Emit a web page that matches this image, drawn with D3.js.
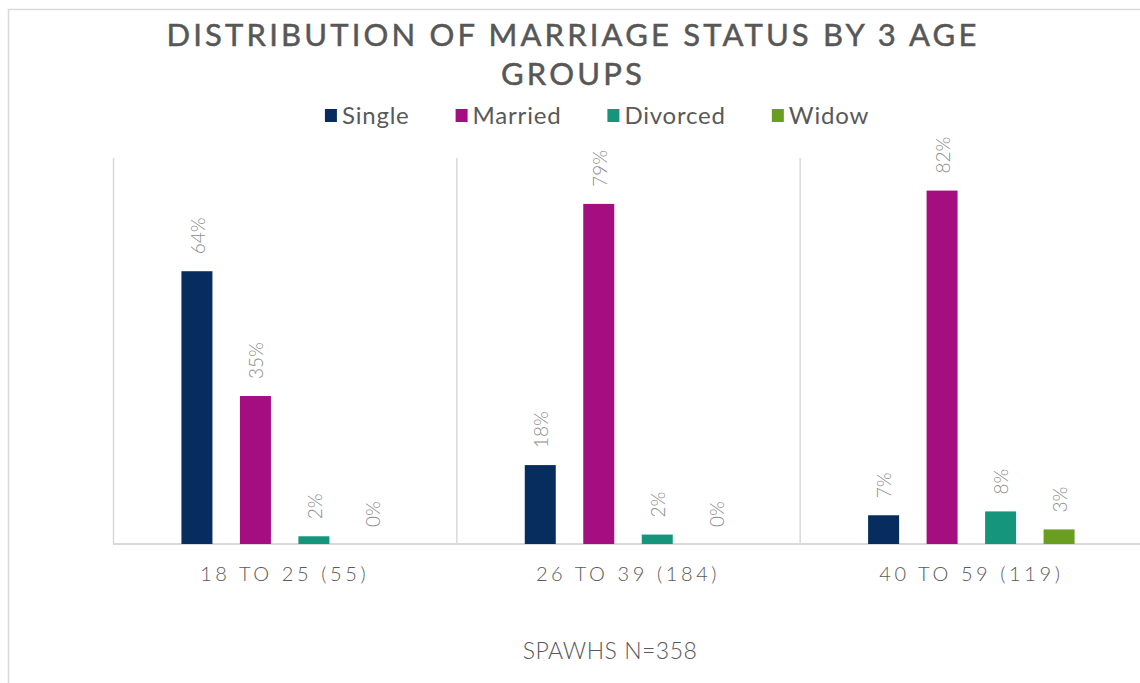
<!DOCTYPE html>
<html>
<head>
<meta charset="utf-8">
<script src="https://cdn.jsdelivr.net/npm/d3@7"></script>
<style>
  html, body { margin: 0; padding: 0; background: #fff; }
  svg { display: block; font-family: Lato, "Open Sans", sans-serif; }
</style>
</head>
<body>
<svg id="chart" width="1140" height="683"></svg>
<script>
// age groups on the x axis
const groups = ["18 TO 25 (55)", "26 TO 39 (184)", "40 TO 59 (119)"];
const statuses = ["Single", "Married", "Divorced", "Widow"];
const colors = ["#072d5e", "#a40e80", "#16957d", "#6a9e20"];

// percentage per status, one array per age group
const age18to25 = [63.6, 34.5, 1.8, 0];
const age26to39 = [18.4, 79.3, 2.2, 0];
const age40to59 = [6.7, 82.4, 7.6, 3.4];

const titleLines = ["DISTRIBUTION OF MARRIAGE STATUS BY 3 AGE", "GROUPS"];
const footer = "SPAWHS N=358";

const table = groups.map((g, i) => ({
    group: g,
    values: [age18to25, age26to39, age40to59][i].map((v, j) => ({ status: statuses[j], value: v }))
}));

const svg = d3.select("#chart");
const W = 1140, H = 683;
const plot = { left: 113, right: 1143, top: 158, bottom: 544 };
const grey = "#d9d9d9";

// outer chart frame (only the top and left edges are visible)
svg.append("path")
    .attr("d", `M8.5,${H} V9.5 H${W}`)
    .attr("fill", "none")
    .attr("stroke", grey)
    .attr("stroke-width", 1.5);

const x0 = d3.scaleBand().domain(groups).range([plot.left, plot.right]).padding(0);
const x1 = d3.scaleBand().domain(statuses).range([0, x0.bandwidth()])
    .paddingInner(0.47).paddingOuter(1.17);
const y = d3.scaleLinear().domain([0, 90]).range([plot.bottom, plot.top]);
const color = d3.scaleOrdinal().domain(statuses).range(colors);

// title, tracked out so the first line spans the same width as the original
const title = svg.append("text")
    .attr("text-anchor", "middle")
    .attr("fill", "#575757")
    .attr("stroke", "#575757")
    .attr("stroke-width", 0.5)
    .style("font-size", "31px");
title.selectAll("tspan")
    .data(titleLines)
    .join("tspan")
    .attr("x", 573)
    .attr("y", (d, i) => 46 + i * 39)
    .text(d => d);
const firstLine = title.select("tspan").node();
const spacing = (813 - firstLine.getComputedTextLength()) / titleLines[0].length;
title.style("letter-spacing", spacing + "px");

// legend
const legend = svg.append("g").attr("class", "legend");
const items = legend.selectAll("g")
    .data(statuses)
    .join("g");
items.append("rect")
    .attr("y", 109)
    .attr("width", 12)
    .attr("height", 13)
    .attr("fill", d => color(d));
items.append("text")
    .attr("x", 17)
    .attr("y", 124)
    .attr("fill", "#595959")
    .style("font-size", "24px")
    .style("letter-spacing", "0.8px")
    .text(d => d);
let lx = 0;
items.each(function() {
    const g = d3.select(this);
    g.attr("transform", `translate(${lx},0)`);
    lx += 17 + g.select("text").node().getComputedTextLength() + 46;
});
lx -= 46;
legend.attr("transform", `translate(${597 - lx / 2},0)`);

// category dividers
svg.append("g")
    .selectAll("line")
    .data(groups)
    .join("line")
    .attr("x1", d => x0(d) + 0.5)
    .attr("x2", d => x0(d) + 0.5)
    .attr("y1", plot.top)
    .attr("y2", plot.bottom)
    .attr("stroke", grey)
    .attr("stroke-width", 1.5);

// x axis
const xAxis = svg.append("g")
    .attr("transform", `translate(0,${plot.bottom})`)
    .call(d3.axisBottom(x0).tickSize(0).tickPadding(23));
xAxis.select(".domain").attr("stroke", grey).attr("stroke-width", 2).attr("d", `M${plot.left},0H${W}`);
xAxis.selectAll(".tick text")
    .attr("fill", "#595959")
    .style("font-family", "Lato, sans-serif")
    .style("font-size", "20px")
    .style("font-weight", 300)
    .style("letter-spacing", "3.6px");

// bars
const groupSel = svg.append("g")
    .selectAll("g")
    .data(table)
    .join("g")
    .attr("transform", d => `translate(${x0(d.group)},0)`);

groupSel.selectAll("rect")
    .data(d => d.values)
    .join("rect")
    .attr("x", d => x1(d.status))
    .attr("y", d => y(d.value))
    .attr("width", x1.bandwidth())
    .attr("height", d => y(0) - y(d.value))
    .attr("fill", d => color(d.status));

// rotated value labels
groupSel.selectAll("text.value")
    .data(d => d.values)
    .join("text")
    .attr("class", "value")
    .attr("transform", d => `translate(${x1(d.status) + x1.bandwidth() / 2 + 1},${y(d.value) - 17}) rotate(-90)`)
    .attr("dy", "0.36em")
    .attr("fill", "#8c8c8c")
    .style("font-size", "19px")
    .style("font-weight", 300)
    .text(d => Math.round(d.value) + "%");

// footer note
svg.append("text")
    .attr("x", 610)
    .attr("y", 659)
    .attr("text-anchor", "middle")
    .attr("fill", "#595959")
    .style("font-size", "23px")
    .style("font-weight", 300)
    .style("letter-spacing", "0.5px")
    .text(footer);
</script>
</body>
</html>
